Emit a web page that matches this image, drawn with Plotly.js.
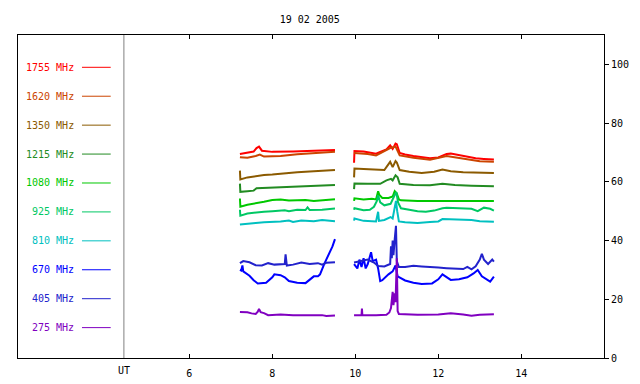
<!DOCTYPE html>
<html><head><meta charset="utf-8">
<script src="https://cdn.plot.ly/plotly-3.0.1.min.js"></script>
<style>html,body{margin:0;padding:0;background:#fff}#chart{width:640px;height:384px}</style>
</head><body><div id="chart"></div>
<script>
const titleText = "19 02 2005";
const freqLabels = ["1755 MHz","1620 MHz","1350 MHz","1215 MHz","1080 MHz","925 MHz","810 MHz","670 MHz","405 MHz","275 MHz"];
const colors = ["#ff0000","#cc4400","#8b5a00","#228b22","#00c800","#00c864","#00c0c0","#0000ff","#2222cc","#8000c0"];
const xTicks = [6,8,10,12,14];
const yTicks = [0,20,40,60,80,100];

const t1755 = [7.22,7.4,7.55,7.62,7.68,7.75,8.0,8.5,9.0,9.51,null,9.97,9.98,10.2,10.4,10.5,10.6,10.75,10.84,10.9,10.97,11.0,11.07,11.2,11.4,11.6,11.8,12.0,12.2,12.3,12.5,12.7,12.9,13.1,13.34];
const v1755 = [69.5,70.0,70.3,71.5,72.0,70.6,70.2,70.3,70.5,70.8,null,66.5,70.5,70.3,70.0,69.6,70.2,71.0,72.4,71.2,73.0,72.8,69.8,69.3,68.8,68.3,68.0,68.3,69.5,69.6,69.0,68.5,68.0,67.8,67.6];

const t1620 = [7.22,7.4,7.6,7.7,7.8,8.2,8.6,9.0,9.51,null,9.97,10.3,10.5,10.84,10.97,11.07,11.4,11.8,12.2,12.6,13.0,13.34];
const v1620 = [68.4,68.2,68.8,69.3,68.6,68.8,69.4,69.8,70.2,null,69.8,69.5,69.0,71.5,72.0,69.0,68.2,67.5,68.8,68.0,67.0,66.8];

const t1350 = [7.22,7.23,7.4,7.6,7.8,8.0,8.3,8.6,8.9,9.2,9.51,null,9.97,9.98,10.2,10.5,10.7,10.84,10.9,10.97,11.0,11.07,11.3,11.6,11.9,12.1,12.3,12.6,13.0,13.34];
const v1350 = [63.8,60.8,61.5,62.0,62.3,62.5,63.0,63.3,63.5,63.8,64.0,null,61.5,64.5,64.4,64.2,64.0,66.8,65.0,67.1,66.6,64.0,63.4,63.0,63.4,64.2,63.6,63.3,63.1,63.0];

const t1215 = [7.22,7.23,7.4,7.55,7.62,8.0,8.5,9.0,9.51,null,9.97,9.98,10.3,10.6,10.75,10.86,10.9,10.97,11.02,11.07,11.4,11.8,12.1,12.4,12.8,13.34];
const v1215 = [59.4,56.6,56.8,57.0,57.8,58.0,58.3,58.6,58.9,null,57.5,59.4,59.3,59.3,60.5,61.0,60.5,62.2,61.5,59.3,58.9,58.8,59.3,58.9,58.7,58.5];

const t1080 = [7.22,7.23,7.4,7.6,7.8,8.0,8.2,8.4,8.6,8.8,9.0,9.2,9.51,null,9.97,9.98,10.2,10.4,10.5,10.55,10.58,10.65,10.8,10.9,10.95,11.0,11.05,11.1,11.5,12.0,12.5,13.0,13.34];
const v1080 = [54.3,51.5,52.2,52.6,53.2,53.8,54.0,53.6,53.6,53.8,53.5,53.8,54.1,null,53.5,54.4,54.0,54.2,54.0,56.8,55.5,54.5,54.5,55.0,56.8,56.0,54.0,53.7,53.5,53.5,53.4,53.4,53.5];

const t925 = [7.22,7.23,7.4,7.6,7.8,8.0,8.3,8.4,8.6,8.8,8.85,8.9,9.2,9.51,null,9.97,9.98,10.2,10.35,10.45,10.52,10.55,10.6,10.7,10.85,10.95,10.99,11.03,11.1,11.3,11.5,11.7,11.9,12.1,12.2,12.5,12.8,12.95,13.1,13.25,13.34];
const v925 = [50.5,48.5,49.2,49.6,49.8,50.0,50.3,50.0,50.5,50.4,51.3,50.4,50.5,50.9,null,50.5,51.0,50.3,50.5,51.5,53.5,55.4,53.0,52.0,52.5,55.5,56.5,53.0,51.0,50.5,50.0,49.8,50.2,51.0,51.2,51.0,50.8,50.0,51.2,50.8,50.2];

const t810 = [7.22,7.4,7.6,7.8,8.0,8.2,8.4,8.5,8.7,9.0,9.2,9.4,9.51,null,9.97,9.98,10.2,10.5,10.55,10.57,10.7,10.85,10.9,10.95,10.98,11.01,11.05,11.2,11.5,11.8,12.0,12.1,12.5,12.8,13.0,13.2,13.34];
const v810 = [45.5,45.8,46.0,46.2,46.3,46.5,46.8,46.3,46.8,46.6,47.0,46.6,46.6,null,46.8,47.5,46.7,46.5,49.8,46.7,47.0,48.0,47.5,51.0,53.5,50.0,46.5,46.2,46.0,46.3,46.5,47.3,47.2,47.0,46.6,46.6,46.4];

const t670 = [7.22,7.25,7.28,7.3,7.45,7.55,7.65,7.85,8.0,8.05,8.2,8.3,8.4,8.6,8.8,8.9,9.0,9.1,9.15,9.25,9.35,9.45,9.51,null,9.97,10.05,10.1,10.15,10.2,10.25,10.3,10.35,10.38,10.42,10.5,10.55,10.6,10.65,10.72,10.8,10.9,10.97,11.02,11.1,11.2,11.4,11.6,11.85,12.0,12.1,12.2,12.3,12.5,12.7,12.85,12.95,13.05,13.15,13.25,13.34];
const v670 = [30.0,29.8,31.5,29.5,28.0,26.5,25.4,25.6,27.5,28.5,28.2,27.5,26.2,25.6,25.5,26.5,27.8,27.8,28.5,32.0,35.0,38.0,40.5,null,32.0,30.5,33.5,31.0,34.0,30.5,32.0,35.0,36.0,33.0,33.5,30.5,26.2,26.5,27.5,28.5,29.5,31.5,27.8,27.2,26.4,25.6,25.2,25.4,26.8,28.5,27.5,26.6,26.8,27.5,28.8,30.0,27.8,27.0,26.0,27.7];

const t405 = [7.22,7.3,7.45,7.6,7.75,7.9,8.05,8.3,8.32,8.35,8.5,8.7,8.9,9.1,9.2,9.3,9.51,null,9.97,10.1,10.3,10.45,10.55,10.7,10.84,10.86,10.88,10.9,10.92,10.95,10.98,11.0,11.05,11.2,11.4,11.6,11.8,12.0,12.2,12.4,12.6,12.7,12.8,12.9,13.0,13.05,13.1,13.2,13.3,13.34];
const v405 = [32.3,33.0,32.6,31.6,31.5,32.3,31.8,32.0,35.3,31.5,31.8,32.5,32.0,32.3,31.8,32.4,32.6,null,32.5,32.8,33.5,32.5,31.3,31.2,32.0,38.0,34.0,40.0,35.0,40.5,45.0,33.0,31.0,31.0,31.4,31.2,30.9,30.8,30.6,30.4,30.3,31.0,30.2,31.2,33.5,35.5,33.5,32.0,33.5,32.8];

const t275 = [7.22,7.4,7.5,7.6,7.65,7.68,7.72,7.8,7.9,8.2,8.5,8.8,9.0,9.2,9.3,9.51,null,9.97,10.15,10.16,10.17,10.5,10.75,10.82,10.86,10.9,10.92,10.95,10.97,11.0,11.02,11.05,11.2,11.5,12.0,12.3,12.6,12.8,13.0,13.34];
const v275 = [15.7,15.6,15.2,15.0,15.8,16.7,15.6,15.3,14.6,14.8,14.6,14.6,14.8,14.6,14.3,14.5,null,14.6,14.6,16.8,14.6,14.6,14.7,15.5,17.0,22.5,18.0,22.0,19.0,34.0,16.0,15.0,14.9,14.7,14.8,15.2,14.8,14.4,14.7,14.9];

const seriesT = [t1755,t1620,t1350,t1215,t1080,t925,t810,t670,t405,t275];
const seriesV = [v1755,v1620,v1350,v1215,v1080,v925,v810,v670,v405,v275];

const X0 = 1.872, X1 = 15.993, UTX = 4.424;
const font = {family: "DejaVu Sans Mono, Liberation Mono, monospace", size: 10, color: "#000"};

const traces = seriesT.map((t, i) => ({
  x: t, y: seriesV[i], mode: "lines", type: "scatter",
  line: {color: colors[i], width: 2}, connectgaps: false, hoverinfo: "skip", showlegend: false
}));

const annotations = [];
const shapes = [];
freqLabels.forEach((lab, i) => {
  const yy = 99.0 - i * 9.85;
  annotations.push({x: 3.27, y: yy, xref: "x", yref: "y", text: lab, showarrow: false,
    xanchor: "right", yanchor: "middle", font: Object.assign({}, font, {color: colors[i]})});
  shapes.push({type: "line", xref: "x", yref: "y", x0: 3.414, x1: 4.106, y0: yy, y1: yy,
    line: {color: colors[i], width: 1}});
});
shapes.push({type: "line", xref: "x", yref: "paper", x0: UTX, x1: UTX, y0: 0, y1: 1,
  line: {color: "#808080", width: 1}});
annotations.push({x: UTX, y: 0, xref: "x", yref: "paper", text: "UT", showarrow: false,
  xanchor: "center", yanchor: "top", yshift: -5, font: font});

const layout = {
  width: 640, height: 384,
  margin: {l: 18, r: 36, t: 35, b: 26},
  paper_bgcolor: "#fff", plot_bgcolor: "#fff",
  font: font,
  title: {text: titleText, font: font, x: 0.484, xanchor: "center", y: 0.948, yanchor: "middle"},
  xaxis: {range: [X0, X1], tickvals: xTicks, ticktext: xTicks.map(String), ticks: "inside", ticklen: 4,
    tickcolor: "#000", showline: true, linecolor: "#000", linewidth: 1, mirror: "ticks",
    showgrid: false, zeroline: false, tickfont: font, ticklabelstandoff: 6},
  yaxis: {range: [0, 110], side: "right", tickvals: yTicks, ticks: "outside", ticklen: 4,
    tickcolor: "#000", showline: true, linecolor: "#000", linewidth: 1, mirror: true,
    showgrid: false, zeroline: false, tickfont: font},
  annotations: annotations, shapes: shapes
};
Plotly.newPlot("chart", traces, layout, {staticPlot: true, displayModeBar: false});
</script></body></html>
